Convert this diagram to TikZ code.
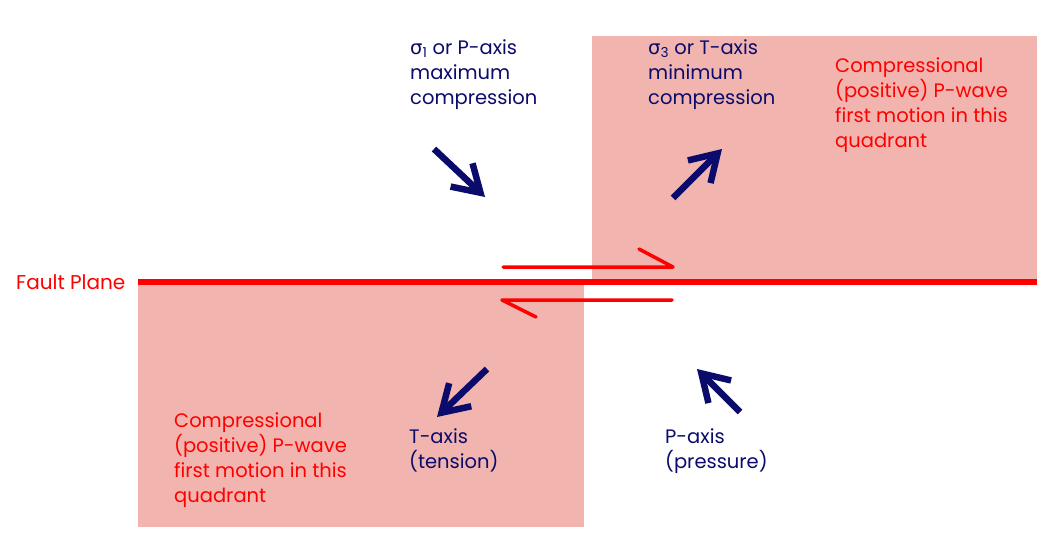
\documentclass[tikz,border=0pt]{standalone}
\usepackage{fontspec}
\setmainfont{Poppins}
\newfontfamily\grk{DejaVu Sans}
\usetikzlibrary{arrows.meta}
\definecolor{quadpink}{HTML}{F2B4AF}
\definecolor{navyarrow}{HTML}{0B0B6B}
\definecolor{faultred}{HTML}{FF0000}
\tikzset{
  quad/.style={fill=quadpink, draw=none},
  bluetext/.style={text=navyarrow, anchor=base west, inner sep=0pt, align=left, font=\fontsize{19.5}{25}\selectfont},
  redtext/.style={text=faultred, anchor=base west, inner sep=0pt, align=left, font=\fontsize{19.5}{25}\selectfont},
  stressarrow/.style={navyarrow, line width=6.5pt, -{Straight Barb[length=26pt, width=32pt]}},
  slipline/.style={faultred, line width=3.5pt},
}
\begin{document}
\begin{tikzpicture}[x=1pt, y=-1pt]
\useasboundingbox (0,0) rectangle (1050,552);
% quadrants
\fill[quad] (592,36) rectangle (1037,282);
\fill[quad] (138,282) rectangle (584,527);
% fault plane
\coordinate (fl) at (138,282);
\coordinate (fr) at (1037,282);
\draw[faultred, line width=6pt] (fl) -- (fr);
\node[redtext, font=\fontsize{20}{25}\selectfont] (fp) at (16,289) {Fault Plane};
% slip arrows
\coordinate (s1a) at (503,267);
\coordinate (s1b) at (673,267);
\coordinate (s1c) at (639,249);
\draw[slipline, line cap=round, line join=round] (s1a) -- (s1b) -- (s1c);
\coordinate (s2a) at (672,300);
\coordinate (s2b) at (502,300);
\coordinate (s2c) at (536,317);
\draw[slipline, line cap=round, line join=round] (s2a) -- (s2b) -- (s2c);
% stress arrows
\coordinate (a1t) at (434,149);
\coordinate (a1h) at (485,197);
\draw[stressarrow] (a1t) -- (a1h);
\coordinate (a2t) at (673,198);
\coordinate (a2h) at (722,149);
\draw[stressarrow] (a2t) -- (a2h);
\coordinate (a3t) at (487,369);
\coordinate (a3h) at (437,417);
\draw[stressarrow] (a3t) -- (a3h);
\coordinate (a4t) at (740,412);
\coordinate (a4h) at (697,369);
\draw[stressarrow] (a4t) -- (a4h);
% texts (base anchor = baseline of last line)
\node[bluetext] (t1) at (410,104) {{\grk σ}\textsubscript{1} or P-axis\\maximum\\compression};
\node[bluetext] (t2) at (648,104) {{\grk σ}\textsubscript{3} or T-axis\\minimum\\compression};
\node[redtext] (t3) at (835,147) {Compressional\\(positive) P-wave\\first motion in this\\quadrant};
\node[redtext] (t4) at (174,502) {Compressional\\(positive) P-wave\\first motion in this\\quadrant};
\node[bluetext] (t5) at (409,468) {T-axis\\(tension)};
\node[bluetext] (t6) at (665,468) {P-axis\\(pressure)};
\end{tikzpicture}
\end{document}
